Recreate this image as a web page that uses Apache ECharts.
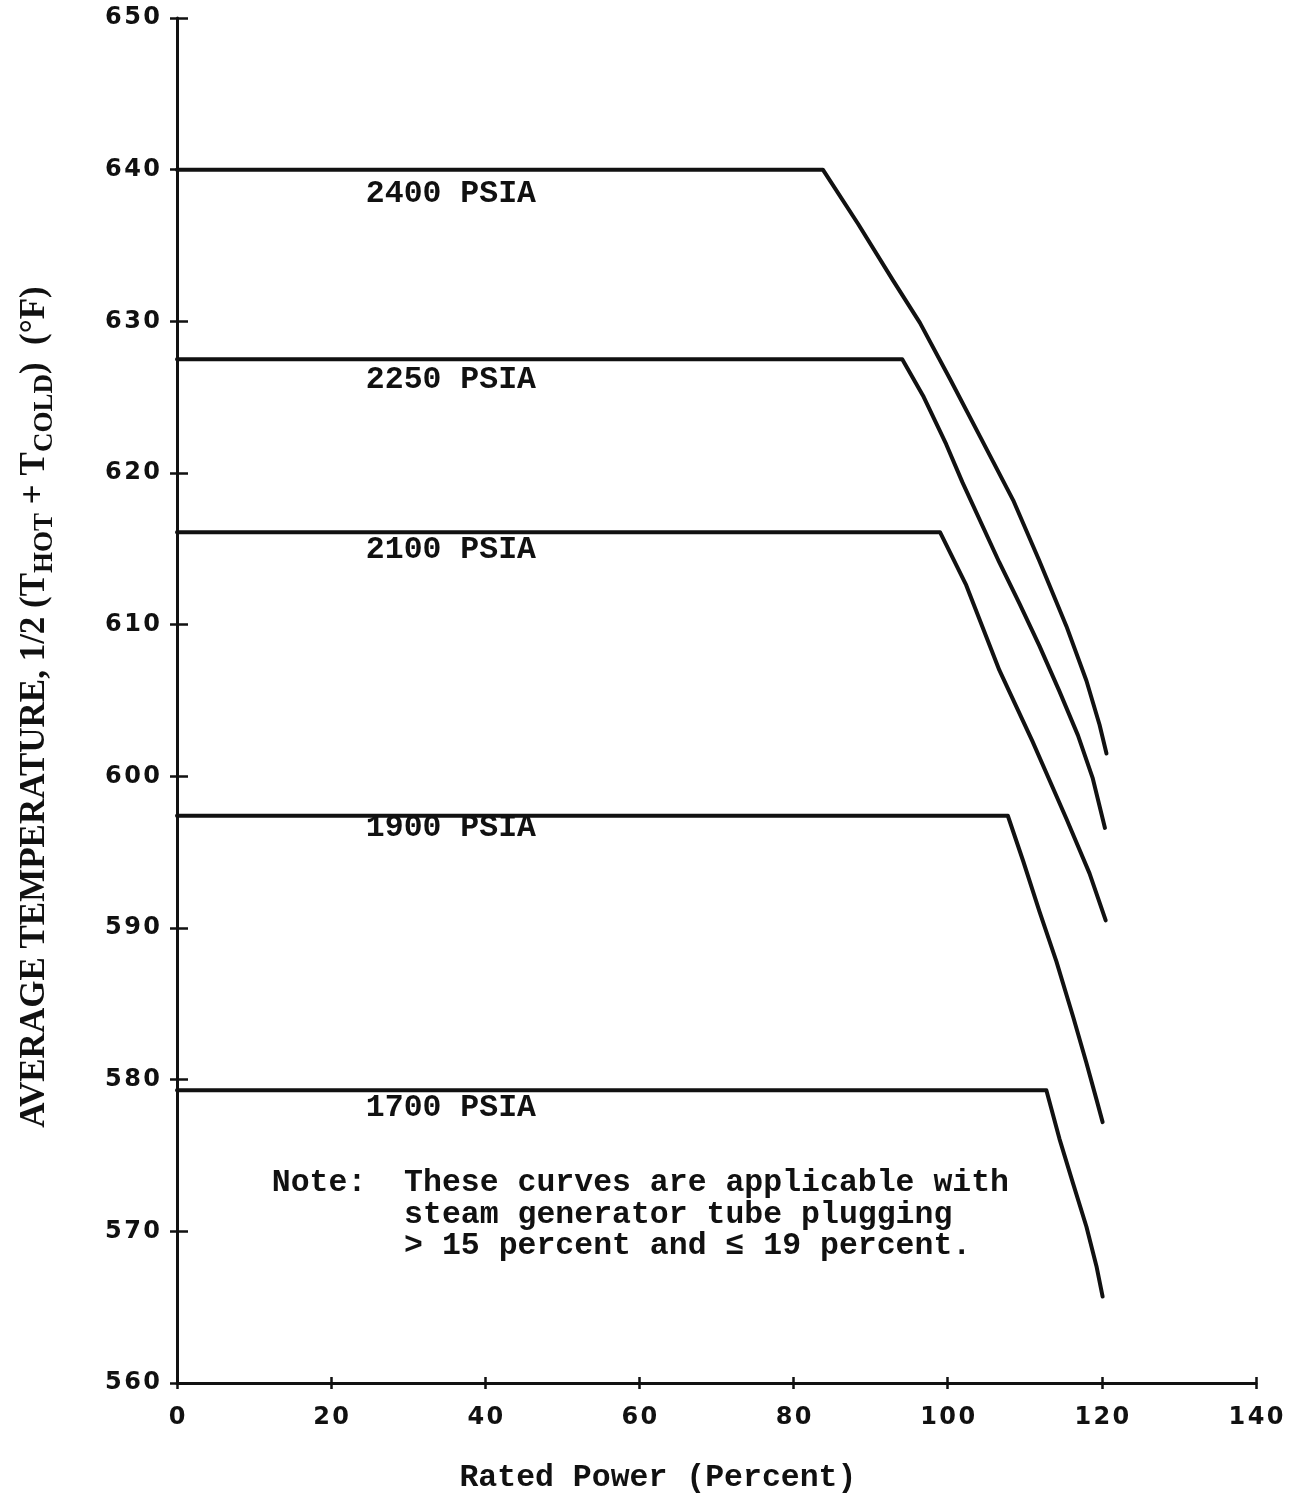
<!DOCTYPE html>
<html>
<head>
<meta charset="utf-8">
<script src="https://cdn.jsdelivr.net/npm/echarts@6/dist/echarts.min.js"></script>
<style>
html,body{margin:0;padding:0;background:#fff;}
#c{width:1308px;height:1496px;}
</style>
</head>
<body>
<div id="c"></div>
<script>
// ---- data ----
const xTicks = [0, 20, 40, 60, 80, 100, 120, 140];
const yTicks = [560, 570, 580, 590, 600, 610, 620, 630, 640, 650];

const p2400X = [0, 83.8, 88.4, 92.9, 96.4, 100.3, 104.2, 108.5, 111.9, 115.4, 118.0, 119.7, 120.6];
const p2400Y = [640, 640, 636.4, 632.7, 629.9, 626.2, 622.4, 618.2, 614.2, 609.9, 606.3, 603.4, 601.5];

const p2250X = [0, 94.1, 96.8, 99.8, 101.9, 106.7, 109.3, 111.9, 114.5, 116.9, 118.8, 120.4];
const p2250Y = [627.5, 627.5, 625.1, 621.9, 619.4, 614.1, 611.4, 608.6, 605.6, 602.7, 599.9, 596.6];

const p2100X = [0, 99.0, 102.4, 106.7, 111.0, 115.4, 118.4, 120.5];
const p2100Y = [616.1, 616.1, 612.6, 607.0, 602.3, 597.2, 593.6, 590.5];

const p1900X = [0, 107.8, 109.8, 111.9, 114.1, 116.3, 118.0, 119.3, 120.1];
const p1900Y = [597.4, 597.4, 594.4, 591.1, 587.8, 584.1, 581.1, 578.7, 577.2];

const p1700X = [0, 112.8, 114.5, 116.3, 118.0, 119.3, 120.1];
const p1700Y = [579.3, 579.3, 576.1, 573.1, 570.3, 567.7, 565.7];

const curveNames = ['2400 PSIA', '2250 PSIA', '2100 PSIA', '1900 PSIA', '1700 PSIA'];
const noteLines = [
  'Note:  These curves are applicable with',
  '       steam generator tube plugging',
  '       > 15 percent and \u2264 19 percent.'
];
const xTitle = 'Rated Power (Percent)';
const yTitleRich = 'AVERAGE TEMPERATURE, 1/2 (T{sub|HOT} + T{sub|COLD})  (\u00B0F)';

// ---- chart ----
const curves = [[p2400X, p2400Y], [p2250X, p2250Y], [p2100X, p2100Y], [p1900X, p1900Y], [p1700X, p1700Y]];
const pairs = (xs, ys) => xs.map((x, i) => [x, ys[i]]);
const spaced = v => String(v).split('').join('\u200A');

const chart = echarts.init(document.getElementById('c'), null, {renderer: 'canvas'});

const tickFont = {fontFamily: "'DejaVu Sans', 'Noto Sans', sans-serif", fontWeight: 'bold', fontSize: 24, color: '#111'};

const baseX = {
  type: 'value', min: xTicks[0], max: xTicks[xTicks.length - 1], interval: 20,
  position: 'bottom', splitLine: {show: false}
};
const baseY = {
  type: 'value', min: yTicks[0], max: yTicks[yTicks.length - 1], interval: 10,
  position: 'left', splitLine: {show: false}
};

const option = {
  animation: false,
  backgroundColor: '#fff',
  grid: {left: 177, right: 52, top: 18, bottom: 113, containLabel: false},
  xAxis: [
    Object.assign({}, baseX, {
      axisLine: {show: true, lineStyle: {color: '#111', width: 3}},
      axisTick: {show: true, inside: false, length: 6, lineStyle: {color: '#111', width: 2.5}},
      axisLabel: Object.assign({margin: 23, formatter: spaced}, tickFont)
    }),
    Object.assign({}, baseX, {
      axisLine: {show: false},
      axisTick: {show: true, inside: true, length: 6, lineStyle: {color: '#111', width: 2.5}},
      axisLabel: {show: false}
    })
  ],
  yAxis: [
    Object.assign({}, baseY, {
      axisLine: {show: true, lineStyle: {color: '#111', width: 3}},
      axisTick: {show: true, inside: false, length: 7, lineStyle: {color: '#111', width: 2.5}},
      axisLabel: Object.assign({margin: 17, formatter: spaced}, tickFont)
    }),
    Object.assign({}, baseY, {
      axisLine: {show: false},
      axisTick: {show: true, inside: true, length: 11, lineStyle: {color: '#111', width: 2.5}},
      axisLabel: {show: false}
    })
  ],
  series: curves.map((c, i) => ({
    name: curveNames[i],
    type: 'line',
    xAxisIndex: 0, yAxisIndex: 0,
    data: pairs(c[0], c[1]),
    symbol: 'none',
    smooth: false,
    lineStyle: {color: '#111', width: 4, cap: 'round', join: 'round'}
  }))
};
chart.setOption(option);

// ---- annotations anchored to data coordinates ----
const labelAnchors = [[24.5, 638.4], [24.5, 626.1], [24.5, 614.9], [24.5, 596.6], [24.5, 578.1]];
const noteAnchor = [12.3, 574.2];
const px = p => chart.convertToPixel({xAxisIndex: 0, yAxisIndex: 0}, p);
const monoFont = {fontFamily: "'Liberation Mono', 'Courier New', monospace", fontWeight: 'bold', fontSize: 31.5, fill: '#111'};

const graphics = [];
curveNames.forEach((n, i) => {
  const p = px(labelAnchors[i]);
  graphics.push({type: 'text', x: p[0], y: p[1],
    style: Object.assign({text: n, align: 'left', verticalAlign: 'middle'}, monoFont)});
});
const np = px(noteAnchor);
graphics.push({type: 'text', x: np[0], y: np[1],
  style: Object.assign({text: noteLines.join('\n'), align: 'left', verticalAlign: 'top', lineHeight: 31.5}, monoFont)});

const xt = px([62.4, 560]);
graphics.push({type: 'text', x: xt[0], y: xt[1] + 95,
  style: Object.assign({text: xTitle, align: 'center', verticalAlign: 'middle'}, monoFont)});

const serif = "'Liberation Serif', 'DejaVu Serif', serif";
graphics.push({type: 'text', x: 35, y: 707, rotation: Math.PI / 2,
  style: {
    text: yTitleRich, align: 'center', verticalAlign: 'middle',
    fontFamily: serif, fontWeight: 'bold', fontSize: 35, fill: '#111',
    rich: {
      sub: {fontFamily: serif, fontWeight: 'bold', fontSize: 27, fill: '#111', padding: [20, 0, 0, 0]}
    }
  }});

chart.setOption({graphic: graphics});
</script>
</body>
</html>
